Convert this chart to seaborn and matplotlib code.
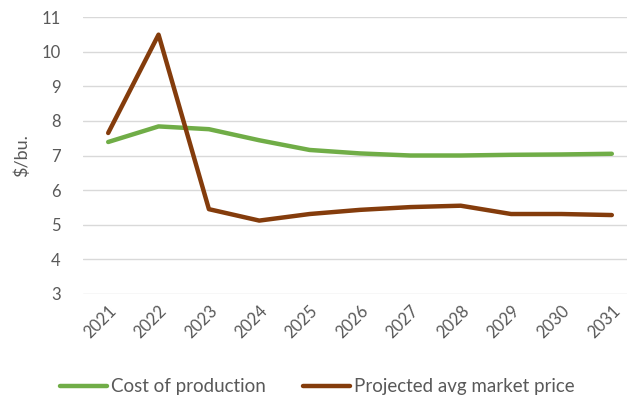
import matplotlib.pyplot as plt
import pandas as pd
import seaborn as sns

years = [2021, 2022, 2023, 2024, 2025, 2026, 2027, 2028, 2029, 2030, 2031]
cost_of_production = [7.39, 7.84, 7.76, 7.44, 7.16, 7.06, 7.0, 7.0, 7.02, 7.03, 7.05]
market_price = [7.65, 10.49, 5.45, 5.12, 5.31, 5.43, 5.51, 5.55, 5.31, 5.31, 5.28]
series_names = ["Cost of production", "Projected avg market price"]
y_ticks = [3, 4, 5, 6, 7, 8, 9, 10, 11]

df = pd.concat([
    pd.DataFrame({"year": years, "value": cost_of_production, "series": series_names[0]}),
    pd.DataFrame({"year": years, "value": market_price, "series": series_names[1]}),
])

sns.set_style("white")
plt.rcParams["font.family"] = ["Lato", "DejaVu Sans"]
text_gray = "#595959"

fig = plt.figure(figsize=(6.27, 3.98), dpi=100)
ax = fig.add_axes([83 / 627, 1 - 294 / 398, 554 / 627, 277 / 398])

sns.lineplot(
    data=df, x="year", y="value", hue="series",
    palette={series_names[0]: "#70ad47", series_names[1]: "#843c0c"},
    linewidth=3.2, ax=ax, legend=False,
)

ax.set_xlim(2020.5, 2031.5)
ax.set_ylim(3, 11)
ax.set_yticks(y_ticks)
ax.set_xticks(years)
ax.set_xticklabels([str(y) for y in years], rotation=45, ha="right", rotation_mode="anchor")
ax.yaxis.grid(True, color="#d9d9d9", linewidth=1)
ax.set_axisbelow(True)
sns.despine(ax=ax, left=True, bottom=True)
ax.tick_params(axis="both", length=0, labelsize=12, colors=text_gray)
ax.tick_params(axis="y", pad=16)
ax.tick_params(axis="x", pad=6)
ax.set_xlabel("")
ax.set_ylabel("$/bu.", fontsize=13, color=text_gray, labelpad=8)

handles = [plt.Line2D([], [], color=c, linewidth=3.2) for c in ["#70ad47", "#843c0c"]]
fig.legend(
    handles, series_names, loc="center", bbox_to_anchor=(0.506, 0.028), ncol=2,
    frameon=False, fontsize=13.5, handlelength=2.5, handletextpad=0.2,
    columnspacing=2.0, labelcolor=text_gray, borderpad=0.2,
)

fig.savefig("out.png", dpi=100)
